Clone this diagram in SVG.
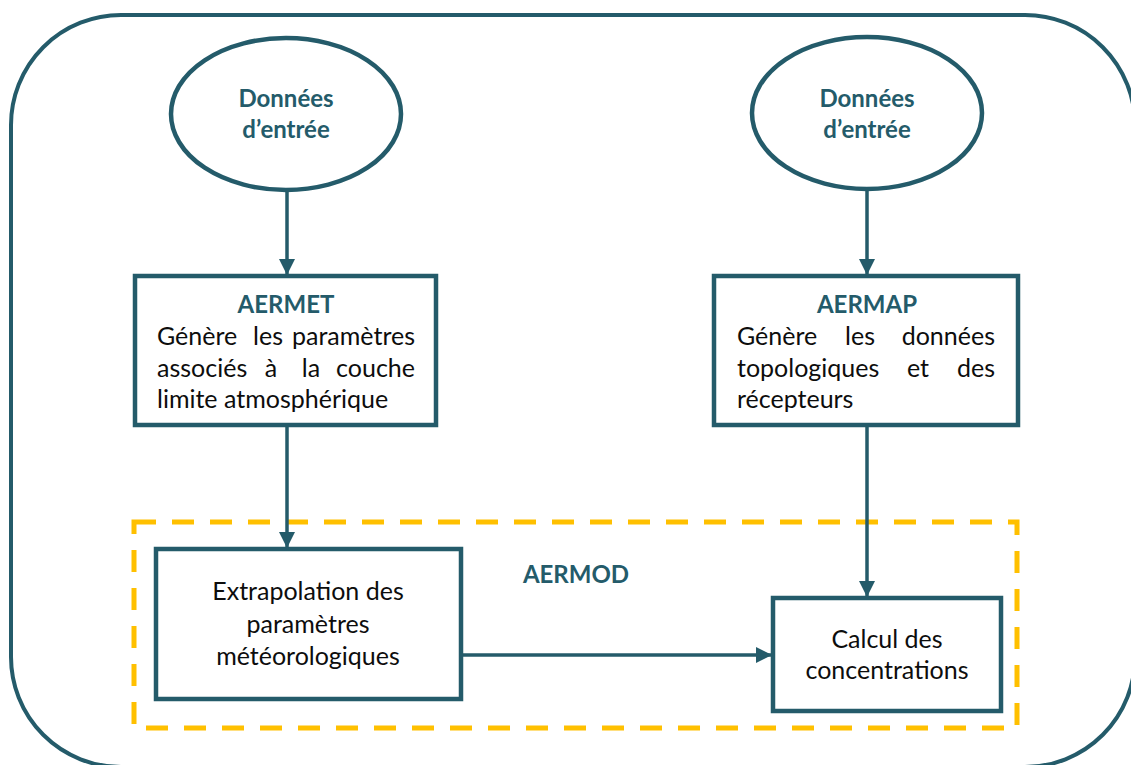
<svg xmlns="http://www.w3.org/2000/svg" width="1131" height="765" viewBox="0 0 1131 765">
<style>
.frame{fill:none;stroke:#245b6a;stroke-width:4}
.node{fill:#fff;stroke:#245b6a;stroke-width:4.5}
.conn{fill:none;stroke:#245b6a;stroke-width:3.5}
.dash{fill:none;stroke:#ffc000;stroke-width:5;stroke-dasharray:22 16}
.h{font-family:Lato,"Liberation Sans",sans-serif;font-weight:bold;font-size:24px;fill:#245b6a}
.t{font-family:Lato,"Liberation Sans",sans-serif;font-size:25px;fill:#0d0d0d}
</style>
<defs>
<marker id="arr" markerUnits="userSpaceOnUse" markerWidth="16" markerHeight="16" viewBox="0 0 16 16" refX="15" refY="8" orient="auto">
<path d="M0,0 L16,8 L0,16 Z" fill="#245b6a"/>
</marker>
</defs>
<rect class="frame" x="11" y="15" width="1124" height="752" rx="110" ry="110"/>
<rect class="dash" x="134" y="522" width="883" height="206"/>
<g id="connectors">
<line class="conn" x1="287" y1="190" x2="287" y2="274" marker-end="url(#arr)"/>
<line class="conn" x1="867" y1="190" x2="867" y2="274" marker-end="url(#arr)"/>
<line class="conn" x1="287" y1="426" x2="287" y2="547" marker-end="url(#arr)"/>
<line class="conn" x1="867" y1="426" x2="867" y2="596" marker-end="url(#arr)"/>
<line class="conn" x1="462" y1="655" x2="771" y2="655" marker-end="url(#arr)"/>
</g>
<g id="in1">
<ellipse class="node" cx="286" cy="114" rx="115" ry="76"/>
<text class="h" x="286" y="107" text-anchor="middle">Données</text>
<text class="h" x="286" y="138" text-anchor="middle">d’entrée</text>
</g>
<g id="in2">
<ellipse class="node" cx="867" cy="113" rx="115" ry="76"/>
<text class="h" x="867" y="107" text-anchor="middle">Données</text>
<text class="h" x="867" y="138" text-anchor="middle">d’entrée</text>
</g>
<g id="aermet">
<rect class="node" x="135" y="276" width="301" height="149"/>
<text class="h" x="286" y="313" text-anchor="middle">AERMET</text>
<text class="t" x="157" y="345">Génère</text>
<text class="t" x="268" y="345" text-anchor="middle">les</text>
<text class="t" x="415" y="345" text-anchor="end">paramètres</text>
<text class="t" x="157" y="377">associés</text>
<text class="t" x="271" y="377" text-anchor="middle">à</text>
<text class="t" x="311" y="377" text-anchor="middle">la</text>
<text class="t" x="415" y="377" text-anchor="end">couche</text>
<text class="t" x="157" y="408">limite atmosphérique</text>
</g>
<g id="aermap">
<rect class="node" x="714" y="276" width="304" height="149"/>
<text class="h" x="867" y="313" text-anchor="middle">AERMAP</text>
<text class="t" x="737" y="345">Génère</text>
<text class="t" x="860" y="345" text-anchor="middle">les</text>
<text class="t" x="995" y="345" text-anchor="end">données</text>
<text class="t" x="737" y="377">topologiques</text>
<text class="t" x="918" y="377" text-anchor="middle">et</text>
<text class="t" x="995" y="377" text-anchor="end">des</text>
<text class="t" x="737" y="408">récepteurs</text>
</g>
<g id="extrapolation">
<rect class="node" x="156" y="549" width="305" height="150"/>
<text class="t" x="308" y="600" text-anchor="middle">Extrapolation des</text>
<text class="t" x="308" y="633" text-anchor="middle">paramètres</text>
<text class="t" x="308" y="665" text-anchor="middle">météorologiques</text>
</g>
<g id="aermod">
<text class="h" x="576" y="583" text-anchor="middle">AERMOD</text>
</g>
<g id="calcul">
<rect class="node" x="773" y="598" width="228" height="113"/>
<text class="t" x="887" y="648" text-anchor="middle">Calcul des</text>
<text class="t" x="887" y="679" text-anchor="middle">concentrations</text>
</g>
</svg>
